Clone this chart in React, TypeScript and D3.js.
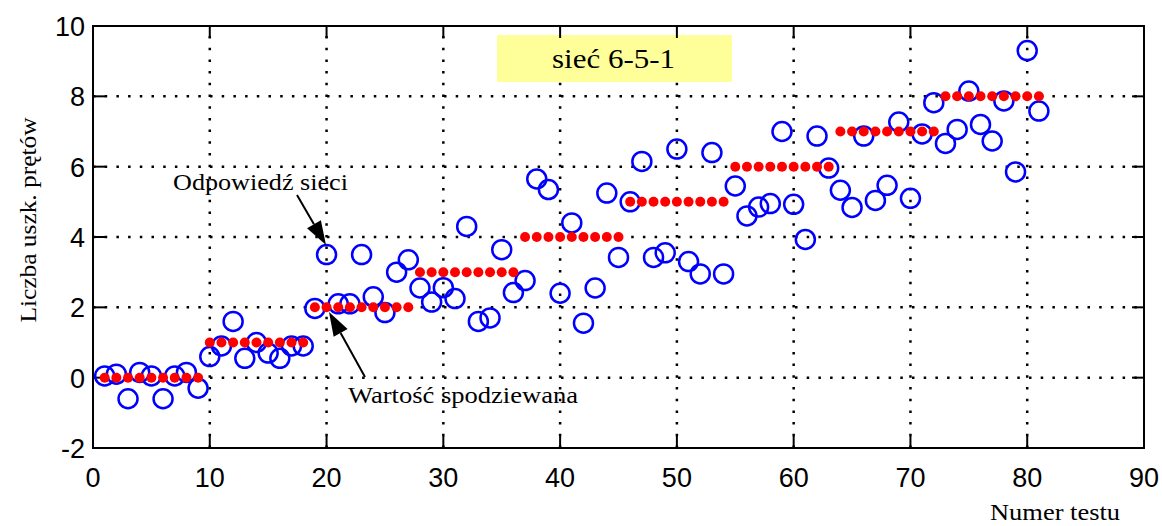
import React from 'react'
import * as d3 from 'd3'

// numer testu 1..81
const testNumbers = d3.range(1, 82)

// wartosc spodziewana (czerwone kropki)
const expected = [
  0, 0, 0, 0, 0, 0, 0, 0, 0,
  1, 1, 1, 1, 1, 1, 1, 1, 1,
  2, 2, 2, 2, 2, 2, 2, 2, 2,
  3, 3, 3, 3, 3, 3, 3, 3, 3,
  4, 4, 4, 4, 4, 4, 4, 4, 4,
  5, 5, 5, 5, 5, 5, 5, 5, 5,
  6, 6, 6, 6, 6, 6, 6, 6, 6,
  7, 7, 7, 7, 7, 7, 7, 7, 7,
  8, 8, 8, 8, 8, 8, 8, 8, 8,
]

// odpowiedz sieci (niebieskie kolka)
const response = [
  0.05, 0.1, -0.6, 0.15, 0.05, -0.6, 0.05, 0.15, -0.3,
  0.6, 0.9, 1.6, 0.55, 1.0, 0.7, 0.55, 0.9, 0.9,
  1.97, 3.5, 2.1, 2.1, 3.5, 2.3, 1.85, 3.0, 3.35,
  2.55, 2.15, 2.56, 2.25, 4.3, 1.6, 1.7, 3.64, 2.42,
  2.76, 5.65, 5.35, 2.4, 4.4, 1.55, 2.55, 5.25, 3.42,
  5.0, 6.15, 3.42, 3.55, 6.5, 3.3, 2.95, 6.4, 2.95,
  5.45, 4.6, 4.85, 4.95, 7.0, 4.93, 3.93, 6.87, 5.96,
  5.33, 4.84, 6.87, 5.04, 5.47, 7.27, 5.1, 6.93, 7.82,
  6.66, 7.06, 8.15, 7.2, 6.73, 7.87, 5.85, 9.3, 7.58,
]

const xTicks = [0, 10, 20, 30, 40, 50, 60, 70, 80, 90]
const yTicks = [-2, 0, 2, 4, 6, 8, 10]

const W = 1162
const H = 526
const sans = '"Liberation Sans", Arial, Helvetica, sans-serif'
const serif = '"Liberation Serif", "Times New Roman", serif'

function Arrow({ x1, y1, x2, y2 }) {
  const ang = Math.atan2(y2 - y1, x2 - x1)
  const len = 24
  const half = 8
  const bx = x2 - len * Math.cos(ang)
  const by = y2 - len * Math.sin(ang)
  const px = -Math.sin(ang) * half
  const py = Math.cos(ang) * half
  return (
    <g>
      <line x1={x1} y1={y1} x2={bx} y2={by} stroke="#000" strokeWidth={2} />
      <polygon points={`${x2},${y2} ${bx + px},${by + py} ${bx - px},${by - py}`} fill="#000" />
    </g>
  )
}

export default function App() {
  const x = d3.scaleLinear().domain([0, 90]).range([93, 1144])
  const y = d3.scaleLinear().domain([-2, 10]).range([448, 26])
  const [x0, x1] = x.range()
  const [y0, y1] = y.range()
  const tick = 12

  return (
    <svg width={W} height={H} style={{ position: 'absolute', left: 0, top: 0, background: '#fff' }}>
      {/* siatka */}
      <g stroke="#000" strokeWidth={2.5} strokeDasharray="2.5 9.2">
        {xTicks.slice(1, -1).map(t => (
          <line key={'gx' + t} x1={x(t)} x2={x(t)} y1={y0} y2={y1} />
        ))}
        {yTicks.slice(1, -1).map(t => (
          <line key={'gy' + t} x1={x0} x2={x1} y1={y(t)} y2={y(t)} />
        ))}
      </g>

      <rect x={497} y={35} width={235} height={47} fill="#ffff99" />
      <text x={552} y={68} fontFamily={serif} fontSize={27} textLength={123} lengthAdjust="spacingAndGlyphs">sieć 6-5-1</text>

      {/* obramowanie i znaczniki */}
      <rect x={x0} y={y1} width={x1 - x0} height={y0 - y1} fill="none" stroke="#000" strokeWidth={2} />
      <g stroke="#000" strokeWidth={2}>
        {xTicks.map(t => (
          <g key={'tx' + t}>
            <line x1={x(t)} x2={x(t)} y1={y0} y2={y0 - tick} />
            <line x1={x(t)} x2={x(t)} y1={y1} y2={y1 + tick} />
          </g>
        ))}
        {yTicks.map(t => (
          <g key={'ty' + t}>
            <line x1={x0} x2={x0 + tick} y1={y(t)} y2={y(t)} />
            <line x1={x1} x2={x1 - tick} y1={y(t)} y2={y(t)} />
          </g>
        ))}
      </g>
      <g fontFamily={sans} fontSize={27}>
        {xTicks.map(t => (
          <text key={'lx' + t} x={x(t)} y={y0 + 39} textAnchor="middle">{t}</text>
        ))}
        {yTicks.map(t => (
          <text key={'ly' + t} x={x0 - 8} y={y(t) + 10} textAnchor="end">{t}</text>
        ))}
      </g>

      {/* odpowiedz sieci */}
      <g fill="none" stroke="#0000ff" strokeWidth={2.5}>
        {testNumbers.map((n, i) => (
          <circle key={'c' + n} cx={x(n)} cy={y(response[i])} r={9.5} />
        ))}
      </g>
      {/* wartosc spodziewana */}
      <g fill="#ff0000">
        {testNumbers.map((n, i) => (
          <circle key={'d' + n} cx={x(n)} cy={y(expected[i])} r={5} />
        ))}
      </g>

      <text x={173} y={190} fontFamily={serif} fontSize={24} textLength={175} lengthAdjust="spacingAndGlyphs">Odpowiedź sieci</text>
      <Arrow x1={297} y1={195} x2={326} y2={245} />
      <text x={348} y={403} fontFamily={serif} fontSize={24} textLength={230} lengthAdjust="spacingAndGlyphs">Wartość spodziewana</text>
      <Arrow x1={365} y1={377} x2={329} y2={312} />

      <text x={990} y={520} fontFamily={serif} fontSize={23} textLength={130} lengthAdjust="spacingAndGlyphs">Numer testu</text>
      <text transform="translate(36,220) rotate(-90)" fontFamily={serif} fontSize={23} textAnchor="middle" textLength={205} lengthAdjust="spacingAndGlyphs">
        Liczba uszk. prętów
      </text>
    </svg>
  )
}
